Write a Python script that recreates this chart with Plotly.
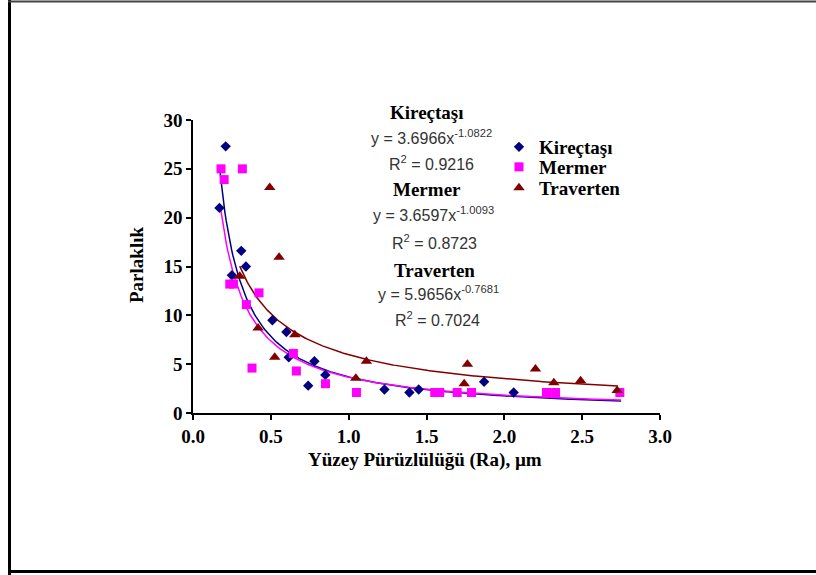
import numpy as np
import plotly.graph_objects as go

# ---- data ----
kirec_x = [0.17, 0.21, 0.25, 0.31, 0.34, 0.51, 0.60, 0.615, 0.74, 0.78, 0.85, 1.23, 1.39, 1.45, 1.87, 2.06]
kirec_y = [21.0, 27.3, 14.1, 16.6, 15.0, 9.5, 8.3, 5.7, 2.8, 5.3, 3.9, 2.4, 2.1, 2.4, 3.2, 2.1]

mermer_x = [0.18, 0.20, 0.236, 0.26, 0.317, 0.343, 0.379, 0.424, 0.645, 0.664, 0.851, 1.05,
            1.553, 1.585, 1.697, 1.789, 2.271, 2.329, 2.742]
mermer_y = [25.0, 23.9, 13.2, 13.2, 25.0, 11.1, 4.6, 12.3, 6.1, 4.3, 3.0, 2.1,
            2.1, 2.1, 2.1, 2.1, 2.1, 2.1, 2.1]

trav_x = [0.30, 0.418, 0.493, 0.525, 0.553, 0.654, 1.046, 1.114, 1.742, 1.763, 2.20, 2.318, 2.49, 2.725]
trav_y = [14.0, 8.7, 23.1, 5.7, 15.95, 8.0, 3.55, 5.3, 3.0, 5.0, 4.5, 3.1, 3.3, 2.3]

series_names = ["Kireçtaşı", "Mermer", "Traverten"]
fit_a = [3.6966, 3.6597, 5.9656]
fit_b = [-1.0822, -1.0093, -0.7681]
fit_r2 = [0.9216, 0.8723, 0.7024]
fit_xmin = [0.17, 0.18, 0.30]
fit_xmax = [2.75, 2.75, 2.73]

x_ticks = [0.0, 0.5, 1.0, 1.5, 2.0, 2.5, 3.0]
y_ticks = [0, 5, 10, 15, 20, 25, 30]

# ---- styling ----
W, H = 816, 575
L, R, T, B = 193, 660, 120, 413  # plot area in pixels
colors = ["#000080", "#FF00FF", "#800000"]
symbols = ["diamond", "square", "triangle-up"]
msizes = [8, 9, 10]
SERIF = "Liberation Serif"
SANS = "Liberation Sans"
SERIF_SIZE = 19
SANS_SIZE = 16


def xp(px):
    return (px - L) / (R - L)


def yp(py):
    return (B - py) / (B - T)


fig = go.Figure()
xs = [kirec_x, mermer_x, trav_x]
ys = [kirec_y, mermer_y, trav_y]

for i in range(3):
    cx = np.linspace(fit_xmin[i], fit_xmax[i], 300)
    fig.add_trace(go.Scatter(
        x=cx, y=fit_a[i] * cx ** fit_b[i], mode="lines",
        line=dict(color=colors[i], width=1.5), showlegend=False, hoverinfo="skip"))

legend_ids = ["legend", "legend2", "legend3"]
for i in range(3):
    fig.add_trace(go.Scatter(
        x=xs[i], y=ys[i], mode="markers", name=series_names[i], legend=legend_ids[i],
        marker=dict(symbol=symbols[i], size=msizes[i], color=colors[i],
                    line=dict(width=0))))

axis_common = dict(
    showgrid=False, zeroline=False, showline=True, linecolor="black", linewidth=1.5,
    ticks="outside", ticklen=5, tickwidth=1.5, tickcolor="black",
    tickfont=dict(family=SERIF, size=SERIF_SIZE, color="black", weight="bold"),
    automargin=False, mirror=False,
)

fig.update_xaxes(range=[0, 3], tickvals=x_ticks, ticktext=[f"{v:.1f}" for v in x_ticks], **axis_common)
fig.update_yaxes(range=[0, 30], tickvals=y_ticks, **axis_common)

annotations = []
annotations.append(dict(text="<b>Yüzey Pürüzlülüğü (Ra), µm</b>", x=xp(425), y=yp(460),
                        xref="paper", yref="paper", showarrow=False, xanchor="center", yanchor="middle",
                        font=dict(family=SERIF, size=SERIF_SIZE, color="black")))
annotations.append(dict(text="<b>Parlaklık</b>", x=xp(136), y=yp(265), textangle=-90,
                        xref="paper", yref="paper", showarrow=False, xanchor="center", yanchor="middle",
                        font=dict(family=SERIF, size=SERIF_SIZE, color="black")))

title_pos = [(427, 112), (427, 189), (434, 270)]
eq_pos = [(431, 137), (433, 214), (438, 293)]
r2_pos = [(431, 163), (434, 242), (437, 319)]
for i in range(3):
    annotations.append(dict(text=f"<b>{series_names[i]}</b>", x=xp(title_pos[i][0]), y=yp(title_pos[i][1]),
                            xref="paper", yref="paper", showarrow=False, xanchor="center", yanchor="middle",
                            font=dict(family=SERIF, size=SERIF_SIZE, color="black")))
    annotations.append(dict(text=f"y = {fit_a[i]:.4f}x<sup>{fit_b[i]:.4f}</sup>",
                            x=xp(eq_pos[i][0]), y=yp(eq_pos[i][1]),
                            xref="paper", yref="paper", showarrow=False, xanchor="center", yanchor="middle",
                            font=dict(family=SANS, size=SANS_SIZE, color="#333333")))
    annotations.append(dict(text=f"R<sup>2</sup> = {fit_r2[i]:.4f}",
                            x=xp(r2_pos[i][0]), y=yp(r2_pos[i][1]),
                            xref="paper", yref="paper", showarrow=False, xanchor="center", yanchor="middle",
                            font=dict(family=SANS, size=SANS_SIZE, color="#333333")))

shapes = [
    dict(type="line", xref="paper", yref="paper", x0=xp(9.5), x1=xp(9.5), y0=yp(0), y1=yp(575),
         line=dict(color="black", width=3)),
    dict(type="line", xref="paper", yref="paper", x0=xp(8), x1=xp(816), y0=yp(1.5), y1=yp(1.5),
         line=dict(color="#444444", width=2)),
    dict(type="line", xref="paper", yref="paper", x0=xp(8), x1=xp(816), y0=yp(571.5), y1=yp(571.5),
         line=dict(color="black", width=3)),
]

legend_rows = [147, 167, 188]
legend_common = dict(xanchor="left", yanchor="middle", bgcolor="rgba(0,0,0,0)", borderwidth=0,
                     itemwidth=30, font=dict(family=SERIF, size=SERIF_SIZE, color="black", weight="bold"))

fig.update_layout(
    width=W, height=H,
    margin=dict(l=L, r=W - R, t=T, b=H - B, pad=0),
    paper_bgcolor="white", plot_bgcolor="white",
    showlegend=True,
    legend=dict(x=xp(499), y=yp(legend_rows[0]), **legend_common),
    legend2=dict(x=xp(499), y=yp(legend_rows[1]), **legend_common),
    legend3=dict(x=xp(499), y=yp(legend_rows[2]), **legend_common),
    annotations=annotations,
    shapes=shapes,
    hovermode=False,
)

fig.write_html("out.html", config={"displayModeBar": False},
               post_script="document.body.style.margin='0px';")
